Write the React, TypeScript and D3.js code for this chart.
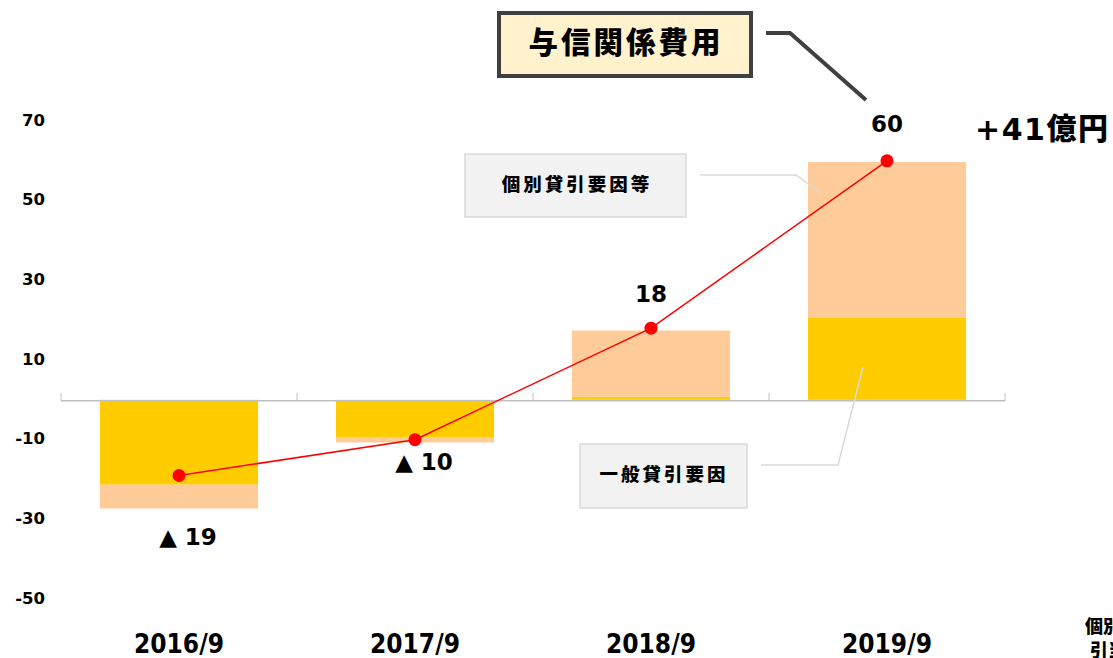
import React from "react";
import * as d3 from "d3";

const categories = ["2016/9", "2017/9", "2018/9", "2019/9"];
const generalFactor = [-21.3, -9.5, 0.8, 20.7]; // 一般貸引要因
const specificFactor = [-6, -1.2, 16.6, 39]; // 個別貸引要因等
const totalCost = [-19, -10, 18, 60]; // 与信関係費用
const totalLabels = ["▲ 19", "▲ 10", "18", "60"];
const yTicks = [70, 50, 30, 10, -10, -30, -50];

const W = 1113;
const H = 658;
const FONT = "'DejaVu Sans', 'Noto Sans CJK JP', sans-serif";
const CJK = "'Noto Sans CJK JP', 'DejaVu Sans', sans-serif";
const YELLOW = "#FFCC00";
const PEACH = "#FFCC99";

export default function App() {
  const x = d3.scaleBand<string>().domain(categories).range([61, 1005]).paddingInner(0.33).paddingOuter(0.165);
  const y = d3.scaleLinear().domain([-50, 70]).range([599, 121]);
  const cx = (i: number) => (x(categories[i]) || 0) + x.bandwidth() / 2;
  const line = d3.line<number>()
    .x((_, i) => cx(i))
    .y(d => y(d));

  const step = x.step();
  const boundaries = d3.range(categories.length + 1).map(i => 61 + i * step);

  // label offsets relative to point
  const labelDy = [63, 24, -33, -35];

  return (
    <svg width={W} height={H} style={{ position: "absolute", left: 0, top: 0, background: "#fff" }} fontFamily={FONT}>
      {/* y tick labels */}
      {yTicks.map(t => (
        <text key={t} x={45} y={y(t)} textAnchor="end" dominantBaseline="middle" fontSize={16.5} fontWeight="bold" fill="#000">{t}</text>
      ))}

      {/* bars */}
      {categories.map((c, i) => {
        const g = generalFactor[i];
        const s = specificFactor[i];
        const bx = x(c) || 0;
        return (
          <g key={c}>
            <rect x={bx} width={x.bandwidth()} y={y(Math.max(0, g))} height={Math.abs(y(g) - y(0))} fill={YELLOW} />
            <rect x={bx} width={x.bandwidth()} y={Math.min(y(g), y(g + s))} height={Math.abs(y(g + s) - y(g))} fill={PEACH} />
          </g>
        );
      })}

      {/* axis */}
      <line x1={61} x2={1005} y1={y(0) + 1} y2={y(0) + 1} stroke="#BFBFBF" strokeWidth={1.5} />
      {boundaries.map((b, i) => (
        <line key={i} x1={b} x2={b} y1={y(0) + 1} y2={y(0) - 7} stroke="#BFBFBF" strokeWidth={1} />
      ))}

      {/* total line */}
      <path d={line(totalCost) || ""} fill="none" stroke="#FF0000" strokeWidth={1.5} />
      {totalCost.map((v, i) => (
        <circle key={i} cx={cx(i)} cy={y(v)} r={6.5} fill="#FF0000" />
      ))}
      {totalCost.map((v, i) => (
        <text key={i} x={cx(i) + (i < 2 ? 9 : 0)} y={y(v) + labelDy[i]} textAnchor="middle" dominantBaseline="middle" fontSize={23} fontWeight="bold" fill="#000">{totalLabels[i]}</text>
      ))}

      {/* category labels */}
      {categories.map((c, i) => (
        <text key={c} x={cx(i)} y={645} textAnchor="middle" dominantBaseline="middle" fontFamily="'DejaVu Sans Condensed', 'DejaVu Sans', sans-serif" fontSize={26} fontWeight="bold" fill="#000">{c}</text>
      ))}

      {/* title callout */}
      <polyline points="766,33 790,33 866,100" fill="none" stroke="#404040" strokeWidth={4} />
      <rect x={499} y={13} width={252} height={63} fill="#FFF2CC" stroke="#404040" strokeWidth={4} />
      <text x={626} y={45} textAnchor="middle" dominantBaseline="middle" fontFamily={CJK} fontSize={29.5} fontWeight={900} letterSpacing={3} fill="#000">与信関係費用</text>
      <text x={975} y={131} dominantBaseline="middle" fontSize={30} fontWeight="bold" letterSpacing={1.5} fill="#000">+41<tspan fontFamily={CJK} fontWeight={900}>億円</tspan></text>

      {/* 個別貸引要因等 callout */}
      <polyline points="700,175 796,175 822,194" fill="none" stroke="#D9D9D9" strokeWidth={1.5} />
      <rect x={465} y={154} width={221} height={63} fill="#F2F2F2" stroke="#D9D9D9" strokeWidth={1.5} />
      <text x={577} y={186} textAnchor="middle" dominantBaseline="middle" fontFamily={CJK} fontSize={18.5} fontWeight={900} letterSpacing={3} fill="#000">個別貸引要因等</text>

      {/* 一般貸引要因 callout */}
      <polyline points="761,465 838,465 863,367" fill="none" stroke="#D9D9D9" strokeWidth={1.5} />
      <rect x={580} y={444} width={167} height={64} fill="#F2F2F2" stroke="#D9D9D9" strokeWidth={1.5} />
      <text x={664} y={476} textAnchor="middle" dominantBaseline="middle" fontFamily={CJK} fontSize={18.5} fontWeight={900} letterSpacing={3} fill="#000">一般貸引要因</text>

      {/* note at bottom right, cut by the edge as in the source */}
      <text x={1085} y={628} dominantBaseline="middle" fontFamily={CJK} fontSize={18} fontWeight={900} fill="#000">個別貸倒</text>
      <text x={1090} y={652} dominantBaseline="middle" fontFamily={CJK} fontSize={18} fontWeight={900} fill="#000">引当</text>
    </svg>
  );
}
